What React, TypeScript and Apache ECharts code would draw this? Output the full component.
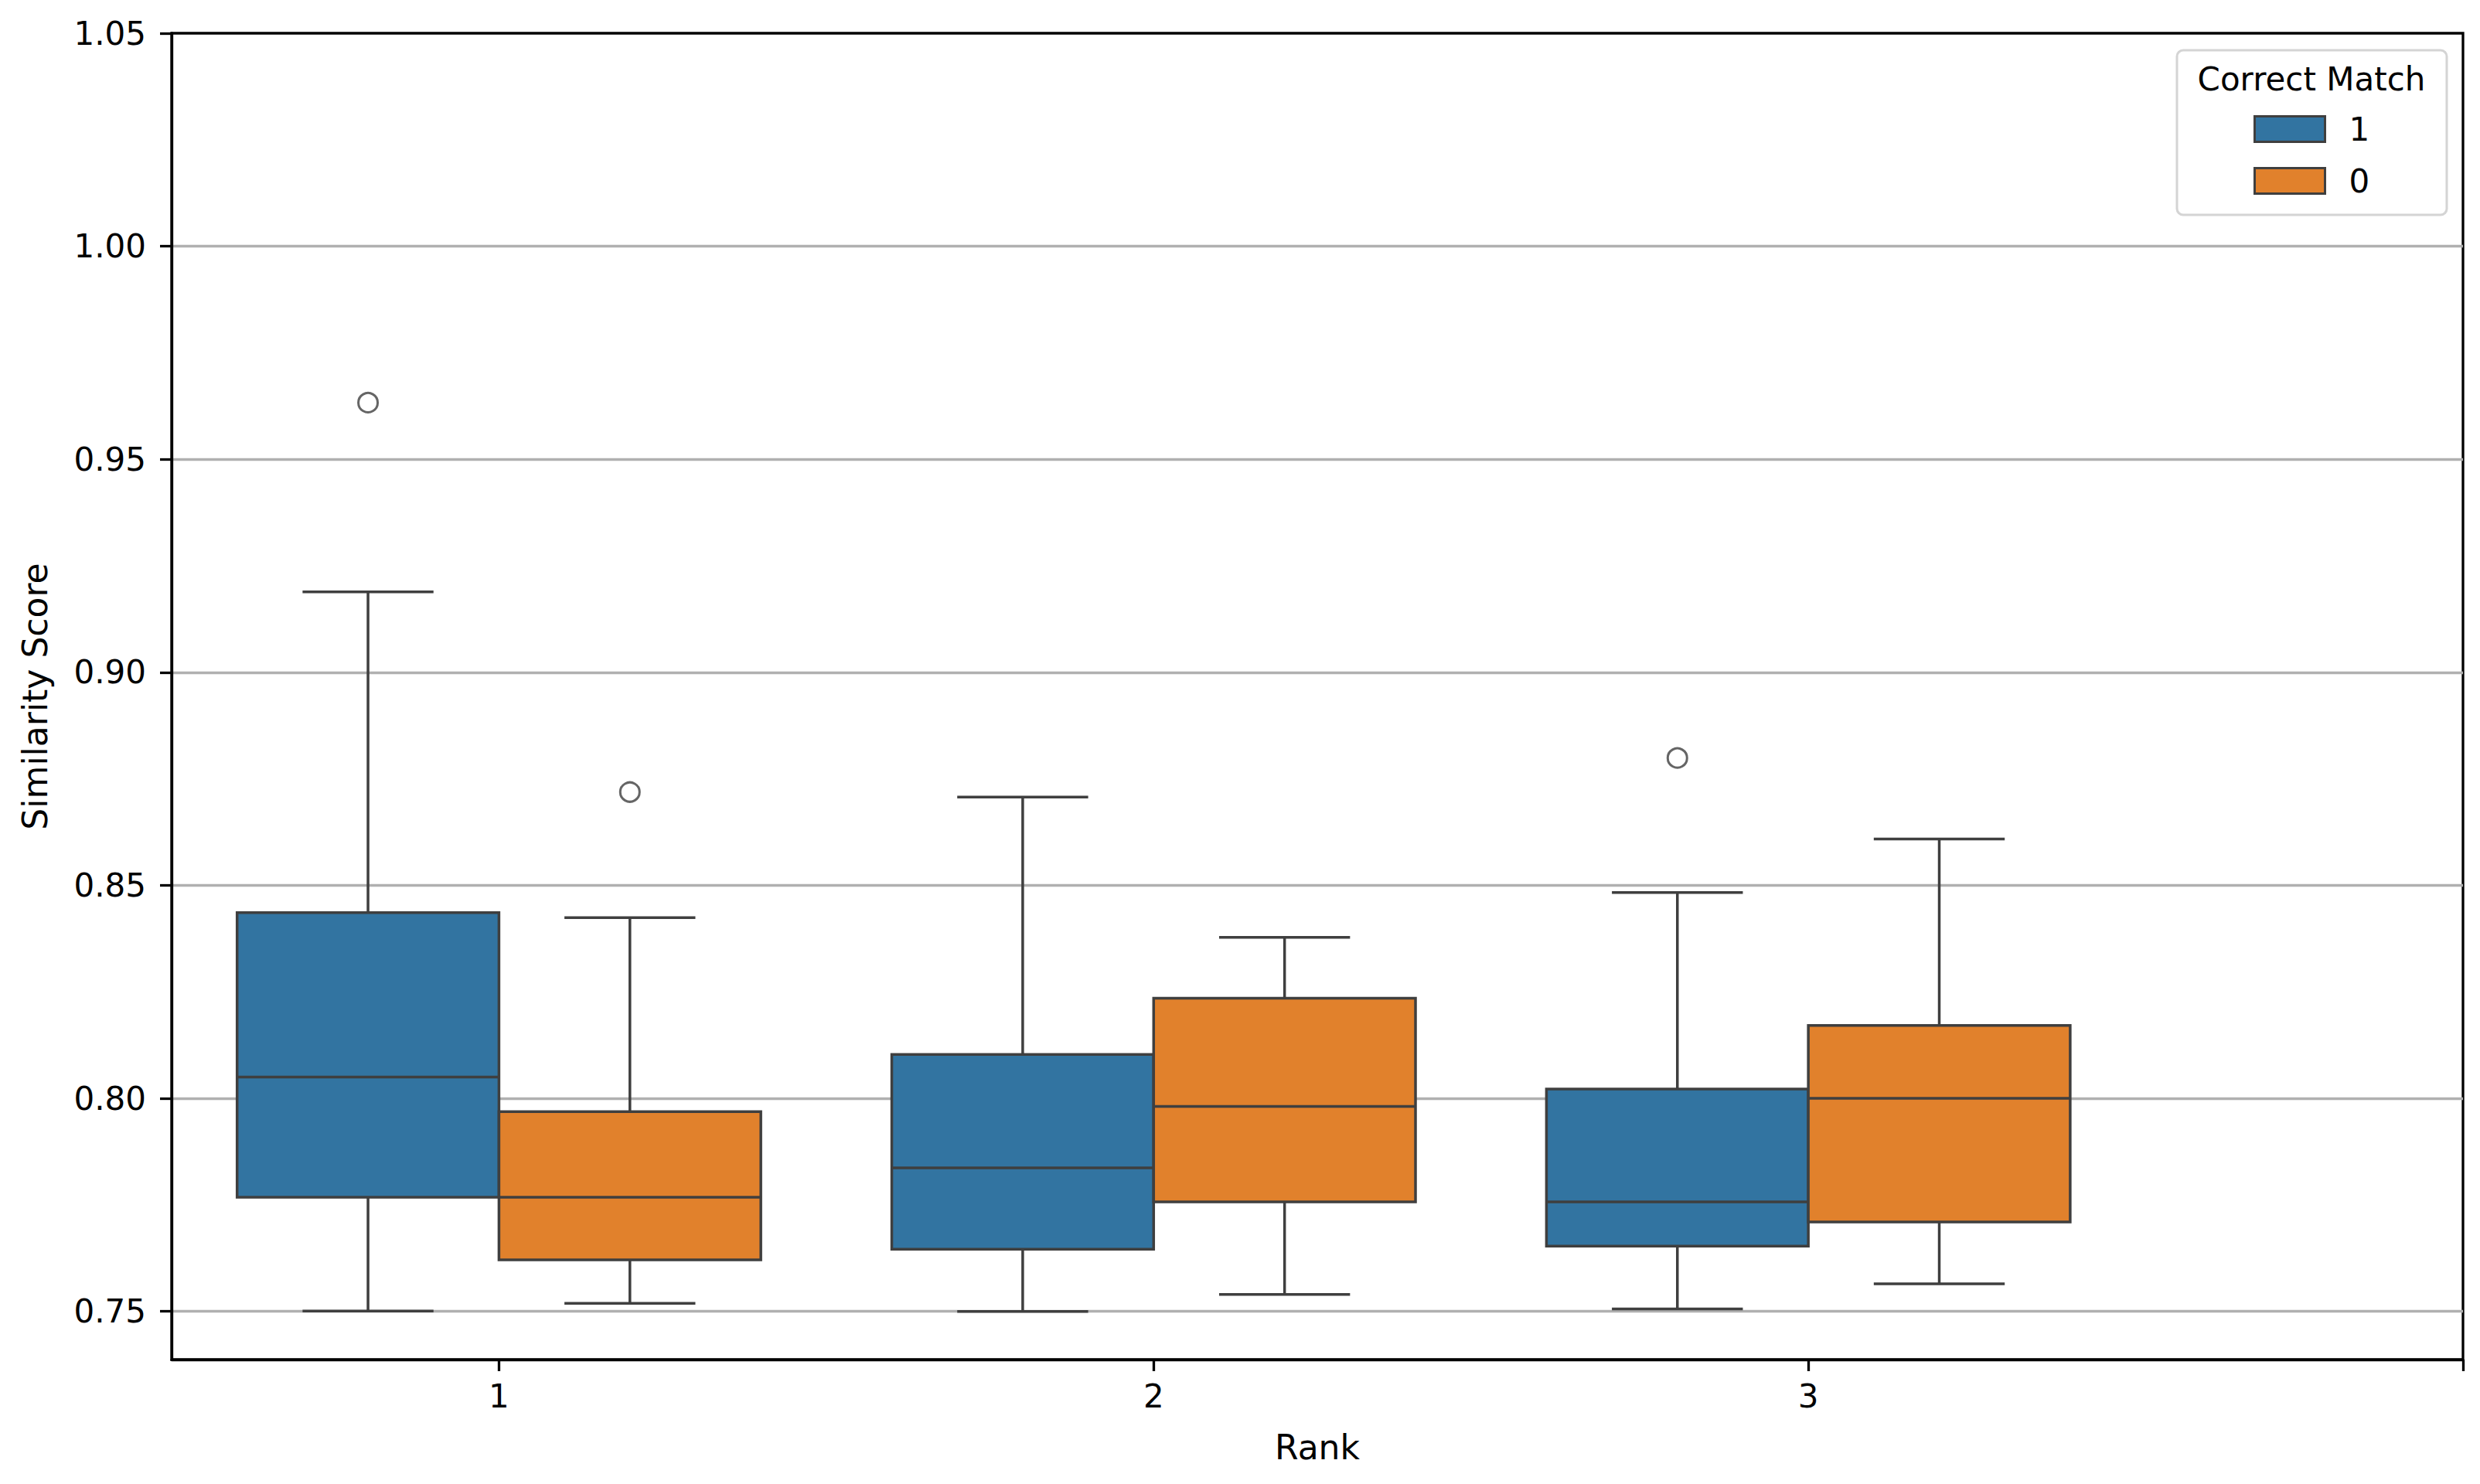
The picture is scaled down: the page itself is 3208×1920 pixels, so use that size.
import { useEffect, useRef } from 'react'
import * as echarts from 'echarts'

const ranks = ['1', '2', '3']
const matchLabels = ['1', '0']
const yTicks = [0.75, 0.8, 0.85, 0.9, 0.95, 1.0, 1.05]
const xTicks = [0, 1, 2, 3]

// Correct Match = 1
const matchLow = [0.7501, 0.75, 0.7506]
const matchQ1 = [0.7768, 0.7646, 0.7653]
const matchMedian = [0.805, 0.7837, 0.7757]
const matchQ3 = [0.8436, 0.8103, 0.8022]
const matchHigh = [0.9189, 0.8707, 0.8483]
const matchOutliers = [
  [0, 0.9633],
  [2, 0.8799],
]

// Correct Match = 0
const missLow = [0.7519, 0.754, 0.7565]
const missQ1 = [0.7621, 0.7757, 0.771]
const missMedian = [0.7768, 0.7981, 0.8]
const missQ3 = [0.7969, 0.8235, 0.8171]
const missHigh = [0.8424, 0.8378, 0.8609]
const missOutliers = [[0, 0.8719]]

const BLUE = '#3274a1'
const ORANGE = '#e1812c'
const EDGE = '#3f3f3f'
const FONT = 'DejaVu Sans'
const BOX_WIDTH = 0.4

function boxRows(low: number[], q1: number[], med: number[], q3: number[], high: number[]) {
  return ranks.map((_, i) => [i, low[i], q1[i], med[i], q3[i], high[i]])
}

function boxRenderer(offset: number) {
  return (_params: any, api: any) => {
    const x = api.value(0) + offset
    const [cx, yLow] = api.coord([x, api.value(1)])
    const yQ1 = api.coord([x, api.value(2)])[1]
    const yMed = api.coord([x, api.value(3)])[1]
    const yQ3 = api.coord([x, api.value(4)])[1]
    const yHigh = api.coord([x, api.value(5)])[1]
    const half = api.size([BOX_WIDTH / 2, 0])[0]
    const capHalf = api.size([BOX_WIDTH / 4, 0])[0]
    const stroke = { stroke: EDGE, lineWidth: 3.5 }
    return {
      type: 'group',
      children: [
        { type: 'line', shape: { x1: cx, y1: yQ3, x2: cx, y2: yHigh }, style: stroke },
        { type: 'line', shape: { x1: cx, y1: yQ1, x2: cx, y2: yLow }, style: stroke },
        { type: 'line', shape: { x1: cx - capHalf, y1: yHigh, x2: cx + capHalf, y2: yHigh }, style: stroke },
        { type: 'line', shape: { x1: cx - capHalf, y1: yLow, x2: cx + capHalf, y2: yLow }, style: stroke },
        {
          type: 'rect',
          shape: { x: cx - half, y: yQ3, width: half * 2, height: yQ1 - yQ3 },
          style: { fill: api.visual('color'), stroke: EDGE, lineWidth: 3.5 },
        },
        { type: 'line', shape: { x1: cx - half, y1: yMed, x2: cx + half, y2: yMed }, style: stroke },
      ],
    }
  }
}

export default function App() {
  const chartRef = useRef<HTMLDivElement | null>(null)

  useEffect(() => {
    if (!chartRef.current) {
      return
    }

    const chart = echarts.init(chartRef.current, null, { renderer: 'svg' })
    chart.setOption({
      animation: false,
      backgroundColor: '#ffffff',
      textStyle: { fontFamily: FONT },
      grid: {
        left: 222,
        right: 22,
        top: 43,
        bottom: 161,
        show: true,
        borderColor: '#000000',
        borderWidth: 3.3,
      },
      legend: {
        data: matchLabels,
        orient: 'vertical',
        left: 2915,
        top: 146,
        padding: 0,
        itemGap: 25,
        itemWidth: 91,
        itemHeight: 33,
        icon: 'rect',
        itemStyle: { borderColor: EDGE, borderWidth: 3 },
        textStyle: { fontSize: 42, color: '#000000', fontFamily: FONT, padding: [0, 0, 0, 26] },
      },
      graphic: [
        {
          type: 'rect',
          shape: { x: 2816, y: 65, width: 349, height: 213, r: 8 },
          style: { fill: 'rgba(255,255,255,0.8)', stroke: '#d4d4d4', lineWidth: 3 },
        },
        {
          type: 'text',
          x: 2990,
          y: 102,
          style: {
            text: 'Correct Match',
            fontSize: 42,
            fontFamily: FONT,
            fill: '#000000',
            align: 'center',
            verticalAlign: 'middle',
          },
        },
      ],
      xAxis: {
        type: 'value',
        min: -0.5,
        max: 3,
        name: 'Rank',
        nameLocation: 'middle',
        nameGap: 91,
        nameTextStyle: { fontSize: 44, color: '#000000', fontFamily: FONT },
        axisLine: { onZero: false, lineStyle: { color: '#000000', width: 3.3 } },
        axisTick: { length: 15, customValues: xTicks, lineStyle: { color: '#000000', width: 3.3 } },
        axisLabel: {
          customValues: [0, 1, 2],
          formatter: (v: number) => ranks[Math.round(v)] ?? '',
          fontSize: 42,
          color: '#000000',
          fontFamily: FONT,
          margin: 26,
        },
        splitLine: { show: false },
      },
      yAxis: {
        type: 'value',
        min: 0.7387,
        max: 1.05,
        name: 'Similarity Score',
        nameLocation: 'middle',
        nameRotate: 90,
        nameGap: 155,
        nameTextStyle: { fontSize: 44, color: '#000000', fontFamily: FONT },
        axisLine: { show: true, onZero: false, lineStyle: { color: '#000000', width: 3.3 } },
        axisTick: { show: true, length: 15, customValues: yTicks, lineStyle: { color: '#000000', width: 3.3 } },
        axisLabel: {
          customValues: yTicks,
          formatter: (v: number) => v.toFixed(2),
          fontSize: 42,
          color: '#000000',
          fontFamily: FONT,
          margin: 33,
        },
        splitLine: { show: true, showMaxLine: false, lineStyle: { color: '#b0b0b0', width: 3.3 } },
      },
      series: [
        {
          name: '1',
          type: 'custom',
          itemStyle: { color: BLUE },
          renderItem: boxRenderer(-BOX_WIDTH / 2),
          encode: { x: 0, y: [1, 2, 3, 4, 5] },
          data: boxRows(matchLow, matchQ1, matchMedian, matchQ3, matchHigh),
          z: 3,
        },
        {
          name: '0',
          type: 'custom',
          itemStyle: { color: ORANGE },
          renderItem: boxRenderer(BOX_WIDTH / 2),
          encode: { x: 0, y: [1, 2, 3, 4, 5] },
          data: boxRows(missLow, missQ1, missMedian, missQ3, missHigh),
          z: 3,
        },
        {
          name: 'outliers 1',
          type: 'scatter',
          symbol: 'circle',
          symbolSize: 25,
          itemStyle: { color: 'rgba(0,0,0,0)', borderColor: EDGE, borderWidth: 3 },
          data: matchOutliers.map(([i, v]) => [i - BOX_WIDTH / 2, v]),
          z: 4,
        },
        {
          name: 'outliers 0',
          type: 'scatter',
          symbol: 'circle',
          symbolSize: 25,
          itemStyle: { color: 'rgba(0,0,0,0)', borderColor: EDGE, borderWidth: 3 },
          data: missOutliers.map(([i, v]) => [i + BOX_WIDTH / 2, v]),
          z: 4,
        },
      ],
    })

    return () => {
      chart.dispose()
    }
  }, [])

  return (
    <div
      ref={chartRef}
      style={{ position: 'fixed', left: 0, top: 0, width: 3208, height: 1920 }}
    />
  )
}
